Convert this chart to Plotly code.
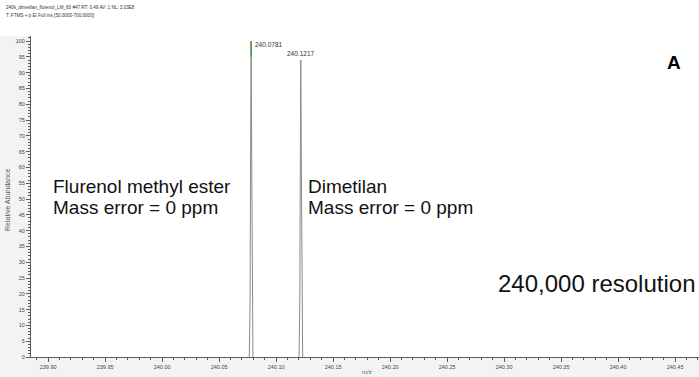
import plotly.graph_objects as go

# ---------------- data ----------------
peak1_mz = [240.0765, 240.0772, 240.0777, 240.07795, 240.0781, 240.07825, 240.0785, 240.0790, 240.0797]
peak1_int = [0, 18, 70, 95, 100, 95, 70, 18, 0]
peak2_mz = [240.1201, 240.1208, 240.1213, 240.1217, 240.1221, 240.1226, 240.1233]
peak2_int = [0, 17, 65, 94, 65, 17, 0]
peak_labels = ["240.0781", "240.1217"]
peak_centers = [240.0781, 240.1217]
peak_heights = [100, 94]

x_tickvals = [239.90, 239.95, 240.00, 240.05, 240.10, 240.15, 240.20,
              240.25, 240.30, 240.35, 240.40, 240.45]
x_ticklabels = ["239.90", "239.95", "240.00", "240.05", "240.10", "240.15",
                "240.20", "240.25", "240.30", "240.35", "240.40", "240.45"]
y_tickvals = [0, 5, 10, 15, 20, 25, 30, 35, 40, 45, 50, 55, 60, 65, 70, 75,
              80, 85, 90, 95, 100]
y_ticklabels = [str(v) for v in y_tickvals]

header_lines = ["240k_dimetilan_flurenol_LM_60 #47 RT: 0.49 AV: 1 NL: 3.03E8",
                "T: FTMS + p EI Full ms [50.0000-700.0000]"]

# ---------------- layout geometry ----------------
W, H = 699, 377
ML, MR, MT, MB = 31, 0, 36, 20
PW, PH = W - ML - MR, H - MT - MB


def px(xp):
    return (xp - ML) / PW


def py(yp):
    return 1 - (yp - MT) / PH


GRAY = "#5a5a5a"
NARROW = "Liberation Sans Narrow, Arial Narrow, Arial"
tick_font = dict(family=NARROW, size=5.5, color="#444")

fig = go.Figure()
spec_mz = peak1_mz + [None] + peak2_mz
spec_int = peak1_int + [None] + peak2_int
fig.add_trace(go.Scatter(x=spec_mz, y=spec_int, mode="lines",
                         line=dict(color="#8a8a8a", width=1), hoverinfo="skip"))
fig.add_trace(go.Scatter(x=peak1_mz[3:6], y=peak1_int[3:6], mode="lines",
                         line=dict(color="#4f9f4f", width=1), hoverinfo="skip"))

annotations = []
lab_font = dict(family=NARROW, size=6.5, color="#333")
annotations.append(dict(x=peak_centers[0], y=peak_heights[0], xref="x", yref="y",
                        text=peak_labels[0], showarrow=False, xanchor="left",
                        yanchor="middle", xshift=2, yshift=-3, font=lab_font))
annotations.append(dict(x=peak_centers[1], y=peak_heights[1], xref="x", yref="y",
                        text=peak_labels[1], showarrow=False, xanchor="center",
                        yanchor="bottom", yshift=1, font=lab_font))
for i, line in enumerate(header_lines):
    annotations.append(dict(x=px(4), y=py(8 + 7 * i), xref="paper", yref="paper",
                            text=line, showarrow=False, xanchor="left", yanchor="middle",
                            font=dict(family=NARROW, size=4.6, color="#333")))

big = dict(family="Arial, Liberation Sans", size=19, color="#111")
for txt, xp, yp in [("Flurenol methyl ester", 51, 187), ("Mass error = 0 ppm", 51, 208),
                    ("Dimetilan", 306, 187), ("Mass error = 0 ppm", 306, 208)]:
    annotations.append(dict(x=px(xp), y=py(yp), xref="paper", yref="paper", text=txt,
                            showarrow=False, xanchor="left", yanchor="middle", font=big))
annotations.append(dict(x=px(496), y=py(283), xref="paper", yref="paper",
                        text="240,000 resolution", showarrow=False, xanchor="left",
                        yanchor="middle", font=dict(family="Arial", size=24, color="#111")))
annotations.append(dict(x=px(674), y=py(62), xref="paper", yref="paper", text="<b>A</b>",
                        showarrow=False, xanchor="center", yanchor="middle",
                        font=dict(family="Arial", size=19, color="#000")))
annotations.append(dict(x=px(8), y=py(200), xref="paper", yref="paper",
                        text="Relative Abundance", showarrow=False, textangle=-90,
                        xanchor="center", yanchor="middle",
                        font=dict(family=NARROW, size=7, color=GRAY)))
annotations.append(dict(x=px(367), y=py(372), xref="paper", yref="paper",
                        text="m/z", showarrow=False, xanchor="center", yanchor="middle",
                        font=dict(family=NARROW, size=6, color=GRAY)))

shapes = [
    dict(type="rect", xref="paper", yref="paper", x0=px(0), x1=px(W), y0=1, y1=py(0),
         fillcolor="white", line=dict(width=0), layer="below"),
]

fig.update_layout(
    width=W, height=H,
    margin=dict(l=ML, r=MR, t=MT, b=MB, pad=0),
    paper_bgcolor="#f3f3f3", plot_bgcolor="white",
    showlegend=False,
    annotations=annotations, shapes=shapes,
    xaxis=dict(range=[239.885, 240.471], tickmode="array", tickvals=x_tickvals,
               ticktext=x_ticklabels, ticks="outside", ticklen=4, tickcolor=GRAY,
               tickwidth=1, showline=True, linecolor=GRAY, linewidth=1,
               showgrid=False, zeroline=False, tickfont=tick_font,
               minor=dict(dtick=0.01, tick0=239.90, ticks="outside", ticklen=2,
                          tickcolor=GRAY, showgrid=False)),
    yaxis=dict(range=[0, 101.6], tickmode="array", tickvals=y_tickvals,
               ticktext=y_ticklabels, ticks="outside", ticklen=4, tickcolor=GRAY,
               tickwidth=1, showline=True, linecolor=GRAY, linewidth=1,
               showgrid=False, zeroline=False, tickfont=tick_font,
               minor=dict(dtick=1, tick0=0, ticks="outside", ticklen=2,
                          tickcolor=GRAY, showgrid=False)),
)

fig.write_html("out.html", config={"displayModeBar": False},
               post_script="document.body.style.margin='0';document.body.style.overflow='hidden';")
